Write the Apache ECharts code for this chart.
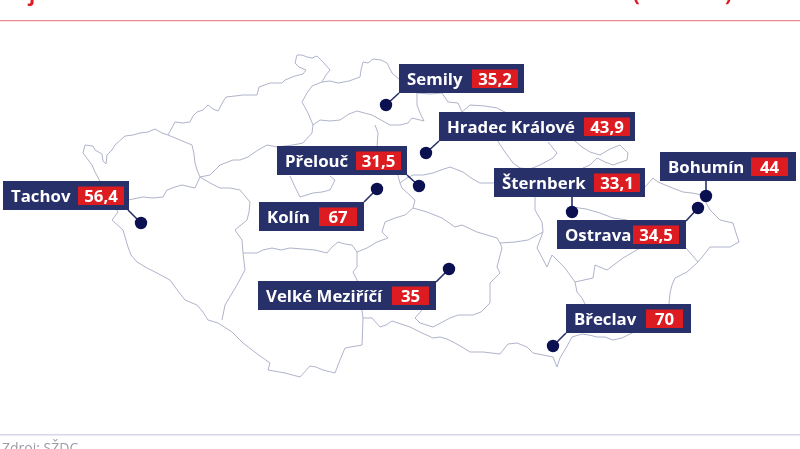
<!DOCTYPE html>
<html style="height: 100%">
<head>
<meta charset="utf-8">
</head>
<body style="height: 100%; margin: 0; background: #fff">
<div id="container" style="width: 800px; height: 449px"></div>
<script src="https://cdn.jsdelivr.net/npm/echarts@6/dist/echarts.min.js"></script>
<script>
// towns and values, positions are in map units
var towns = ['Tachov', 'Semily', 'Hradec Králové', 'Přelouč', 'Kolín', 'Velké Meziříčí', 'Šternberk', 'Bohumín', 'Ostrava', 'Břeclav'];
var values = [56.4, 35.2, 43.9, 31.5, 67, 35, 33.1, 44, 34.5, 70];
var townX = [141, 386, 426, 419, 377, 449, 572, 706, 698, 553];
var townY = [223, 105, 153, 186, 189, 269, 212, 196, 208, 346];

// outline of the country, broken where the labels hide it
var outerBorder = [
    [85,145],[93,146],[95,150],[102,154],[103,161],[106,164],[107,155],[112,150],[115,145],[125,136],[133,135],[140,133],[148,132],[155,129],[162,133],[168,135],
    [175,122],[183,123],[190,122],[193,116],[197,112],[203,110],[208,105],[213,109],[218,111],[224,100],[226,97],[235,96],[243,95],[250,95],[257,95],[259,87],[270,83],[282,83],[285,80],[295,76],[303,74],[306,70],
    [299,67],[295,63],[297,55],[302,55],[307,57],[312,58],[317,56],[323,62],[330,70],[326,75],[322,82],[330,81],[338,83],[349,81],[360,77],[361,70],[363,62],[368,63],[373,59],[381,60],[387,63],[392,73],[400,80],
    [417,93],[430,94],[442,93],[448,102],[458,103],[462,112],[470,105],[485,106],[497,108],[530,125],[575,141],[582,147],[590,152],[600,155],[610,149],[620,145],
    [628,153],[627,160],[613,165],[605,162],[597,158],[590,165],[583,168],[600,175],[645,187],[653,178],[658,182],[670,187],[683,192],[692,193],[702,195],[710,210],
    [720,220],[733,223],[736,233],[739,242],[730,247],[710,247],[703,256],[698,262],[687,272],[675,278],[672,285],[670,293],[669,304],[650,325],[632,333],
    [622,338],[613,340],[605,337],[597,337],[589,335],[582,334],[572,337],[566,348],[560,358],[557,367],[553,357],[543,355],[533,353],[527,347],[517,343],[508,344],[500,354],
    [483,352],[470,352],[462,347],[455,343],[447,339],[440,337],[433,338],[420,332],[410,327],[392,321],[386,325],[380,327],[372,318],[363,318],[362,345],
    [345,348],[340,360],[335,373],[323,370],[316,367],[310,366],[300,377],[285,373],[268,370],[270,363],[256,353],[243,343],[232,332],[218,323],[208,320],
    [203,312],[197,305],[185,300],[178,291],[170,280],[157,273],[147,268],[137,262],[131,255],[128,247],[123,230],[112,220],[118,212],[110,200],[95,172],[92,165],
    [83,153],[85,145]
];
// borders between the regions
var karlovyVary = [[128,200],[143,197],[153,198],[163,197],[167,190],[175,187],[182,185],[195,188],[200,177],[197,170],[195,163],[194,154],[192,145],[180,140],[168,135]];
var ustiSouth = [[200,177],[210,175],[220,165],[233,160],[240,160],[248,157],[258,150],[267,145],[277,147],[293,145],[303,143],[312,133],[313,125],[308,113],[302,102],[307,93],[312,86],[322,82]];
var plzenEast = [[200,177],[210,183],[220,188],[230,188],[240,190],[250,202],[249,212],[247,220],[235,230],[242,240],[243,253],[245,270],[237,285],[231,295],[225,305],[222,320]];
var southBohemiaNorth = [[243,253],[257,253],[263,250],[272,248],[281,250],[290,248],[303,249],[315,250],[327,253],[332,247],[338,242],[345,244],[352,245],[357,252],[357,267],[353,272],[358,282],[363,318]];
var vysocinaNorth = [[357,252],[367,248],[377,242],[388,238],[382,232],[385,222],[395,218],[405,215],[413,208],[415,200],[402,188],[400,183]];
var libereckyJih = [[313,125],[320,120],[330,121],[340,120],[349,114],[357,111],[372,115],[381,120],[390,125],[400,125],[408,123],[412,118],[424,121],[420,113],[417,105],[417,93]];
var praguePart = [[375,125],[378,133],[377,147],[395,165],[400,183]];
var pardubiceNorth = [[400,183],[407,178],[413,175],[423,175],[433,173],[441,170],[450,167],[463,172],[471,178],[480,183],[493,183],[520,168],[530,169],[540,165],[553,158],[557,153],[548,142]];
var hradecEast = [[497,140],[505,152],[513,163],[520,168]];
var stredoPocket = [[290,176],[295,187],[300,197],[313,193],[322,192],[330,190],[335,180],[330,176]];
var vysocinaEast = [[413,208],[427,212],[442,218],[455,227],[462,225],[477,232],[497,238],[500,243],[502,248],[497,267],[500,273],[490,283],[490,303],[481,312],[473,315],[458,315],[450,318],[433,327],[420,323],[415,318],[422,310]];
var moravaWest = [[500,243],[515,242],[528,240],[543,232],[542,222],[535,210],[535,197]];
var olomoucSouth = [[543,232],[537,248],[547,267],[552,255],[565,268],[575,282],[577,292],[582,298],[585,304]];
var zlinNorth = [[575,282],[593,278],[595,265],[607,270],[615,264],[623,258],[640,248],[686,248],[698,262]];
var moravaMiddle = [[572,207],[586,209],[600,213],[613,218],[627,220]];
var regionBorders = [karlovyVary, ustiSouth, plzenEast, southBohemiaNorth, vysocinaNorth, libereckyJih, praguePart, pardubiceNorth,
    hradecEast, stredoPocket, vysocinaEast, moravaWest, olomoucSouth, zlinNorth, moravaMiddle];

// label boxes: left, top, right, bottom, red box left, red box right, where the leader meets the box
var labelBoxes = [
    [3, 181, 129, 210, 78, 124, 128, 210],
    [399, 64, 524, 93, 472, 518, 399, 93],
    [439, 112, 635, 141, 584, 630, 439, 141],
    [277, 146, 407, 175, 356, 401, 407, 175],
    [259, 202, 364, 231, 319, 357, 364, 202],
    [258, 281, 436, 310, 392, 429, 436, 282],
    [494, 168, 645, 197, 594, 640, 572, 197],
    [660, 152, 796, 181, 751, 788, 706, 181],
    [557, 220, 686, 249, 633, 679, 686, 221],
    [566, 304, 691, 333, 646, 683, 566, 333]
];

var NAVY = '#283069';
var RED = '#dc1c20';
var DOT = '#0a1050';
var FONT = '"Open Sans", sans-serif';

echarts.registerMap('cesko', {
    type: 'FeatureCollection',
    features: [
        {type: 'Feature', properties: {name: 'hranice'}, geometry: {type: 'LineString', coordinates: outerBorder}},
        {type: 'Feature', properties: {name: 'kraje'}, geometry: {type: 'MultiLineString', coordinates: regionBorders}}
    ]
});

function renderTown(params, api) {
    var i = params.dataIndex;
    var pt = api.coord([api.value(0), api.value(1)]);
    var b = labelBoxes[i];
    var midY = (b[1] + b[3]) / 2 + 1.5;
    return {
        type: 'group',
        children: [
            {type: 'line', shape: {x1: pt[0], y1: pt[1], x2: b[6], y2: b[7]}, style: {stroke: NAVY, lineWidth: 1.6}},
            {type: 'circle', shape: {cx: pt[0], cy: pt[1], r: 6.2}, style: {fill: DOT}},
            {type: 'rect', shape: {x: b[0], y: b[1], width: b[2] - b[0], height: b[3] - b[1]}, style: {fill: NAVY}},
            {type: 'rect', shape: {x: b[4], y: b[1] + 5.5, width: b[5] - b[4], height: b[3] - b[1] - 10.5}, style: {fill: RED}},
            {type: 'text', x: b[0] + 8, y: midY, style: {
                text: towns[i], fill: '#fff', font: 'bold 16.8px ' + FONT, textAlign: 'left', textVerticalAlign: 'middle'
            }},
            {type: 'text', x: (b[4] + b[5]) / 2, y: midY, style: {
                text: String(api.value(2)).replace('.', ','), fill: '#fff', font: 'bold 16.8px ' + FONT, textAlign: 'center', textVerticalAlign: 'middle'
            }}
        ]
    };
}

var myChart = echarts.init(document.getElementById('container'));
var option = {
    backgroundColor: '#fff',
    animation: false,
    geo: {
        map: 'cesko',
        silent: true,
        projection: {
            project: function (p) { return p; },
            unproject: function (p) { return p; }
        },
        boundingCoords: [[0, 0], [800, 449]],
        left: 0,
        top: 0,
        width: 800,
        height: 449,
        itemStyle: {areaColor: 'none', borderColor: '#b0b4ca', borderWidth: 1}
    },
    graphic: [
        // the title and the source are cut off by the picture's edge
        {type: 'text', x: 29, y: -15, style: {text: 'j', fill: '#dc1c20', font: 'bold 20px ' + FONT}},
        {type: 'text', x: 633, y: -15, style: {text: '(', fill: '#dc1c20', font: 'bold 20px ' + FONT}},
        {type: 'text', x: 725, y: -15, style: {text: ')', fill: '#dc1c20', font: 'bold 20px ' + FONT}},
        {type: 'rect', shape: {x: 0, y: 20, width: 800, height: 1.2}, style: {fill: '#e98a90'}},
        {type: 'rect', shape: {x: 0, y: 434, width: 800, height: 1.5}, style: {fill: '#d6d6e6'}},
        {type: 'text', x: 2, y: 442, style: {text: 'Zdroj: SŽDC', fill: '#9b9ba8', font: '14px ' + FONT}}
    ],
    series: [{
        type: 'custom',
        coordinateSystem: 'geo',
        geoIndex: 0,
        silent: true,
        clip: false,
        renderItem: renderTown,
        data: towns.map(function (name, i) {
            return {name: name, value: [townX[i], townY[i], values[i]]};
        })
    }]
};
myChart.setOption(option);
</script>
</body>
</html>
